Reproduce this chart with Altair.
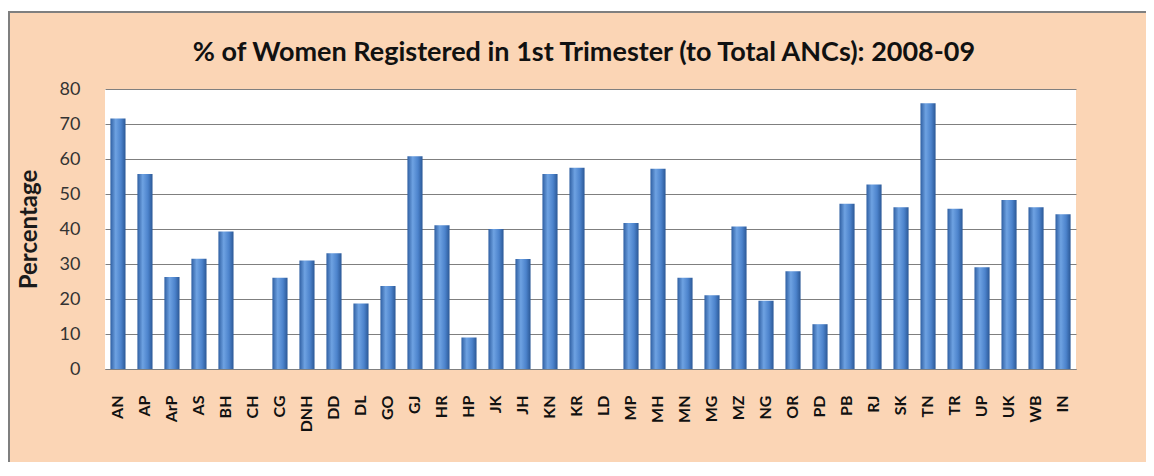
import altair as alt
import pandas as pd

states = ["AN", "AP", "ArP", "AS", "BH", "CH", "CG", "DNH", "DD", "DL", "GO", "GJ",
          "HR", "HP", "JK", "JH", "KN", "KR", "LD", "MP", "MH", "MN", "MG", "MZ",
          "NG", "OR", "PD", "PB", "RJ", "SK", "TN", "TR", "UP", "UK", "WB", "IN"]
values = [71.6, 55.7, 26.3, 31.5, 39.3, 0, 26.1, 31.0, 33.1, 18.7, 23.7, 60.8,
          41.1, 9.0, 40.0, 31.4, 55.7, 57.5, 0, 41.7, 57.2, 26.1, 21.1, 40.7,
          19.5, 27.9, 12.8, 47.2, 52.7, 46.2, 75.9, 45.8, 29.1, 48.3, 46.2, 44.2]
y_ticks = [0, 10, 20, 30, 40, 50, 60, 70, 80]
TITLE = "% of Women Registered in 1st Trimester (to Total ANCs): 2008-09"
Y_TITLE = "Percentage"

W, H = 971, 280
PAD_L, PAD_T, PAD_R, PAD_B = 97, 81, 70, 93
FONT = "Lato"

df = pd.DataFrame({"state": states, "value": values})

grad = alt.Gradient(
    gradient="linear",
    stops=[
        alt.GradientStop(color="#2f5fa2", offset=0),
        alt.GradientStop(color="#6ea2e2", offset=0.35),
        alt.GradientStop(color="#4c83cc", offset=0.7),
        alt.GradientStop(color="#2b5896", offset=1),
    ],
    x1=0, x2=1, y1=0, y2=0,
)

bars = alt.Chart(df).mark_bar(color=grad).encode(
    x=alt.X(
        "state:N", sort=states,
        scale=alt.Scale(paddingInner=0.44, paddingOuter=0.2),
        axis=alt.Axis(
            title=None, labelAngle=270, labelAlign="right", labelBaseline="middle",
            labelPadding=26, ticks=False, domainColor="#7f7f7f", grid=False,
            labelFont=FONT, labelFontWeight="bold", labelFontSize=16, labelColor="#111111",
        ),
    ),
    y=alt.Y(
        "value:Q",
        scale=alt.Scale(domain=[0, 80], nice=False),
        axis=alt.Axis(
            values=y_ticks, title=Y_TITLE, grid=True, gridColor="#7f7f7f", gridWidth=1,
            domain=False, ticks=False, labelPadding=25,
            labelFont=FONT, labelFontSize=18, labelColor="#333333",
            titleFont=FONT, titleFontSize=24, titleFontWeight="bold", titleColor="#1a1a1a",
            titleAngle=270, titleX=-76, titleY=H / 2, titleAlign="center",
            titleBaseline="middle",
        ),
    ),
)

one = pd.DataFrame({"k": [0]})
white_strip = alt.Chart(one).mark_rect(color="white").encode(
    x=alt.value(-PAD_L), x2=alt.value(W + PAD_R), y=alt.value(-PAD_T), y2=alt.value(-PAD_T + 4)
)
border_top = alt.Chart(one).mark_rule(color="#7f7f7f", strokeWidth=2).encode(
    x=alt.value(-PAD_L), x2=alt.value(W + PAD_R), y=alt.value(-PAD_T + 4)
)
border_left = alt.Chart(one).mark_rule(color="#7f7f7f", strokeWidth=2).encode(
    x=alt.value(-PAD_L + 1), y=alt.value(-PAD_T + 4), y2=alt.value(H + PAD_B)
)
title = alt.Chart(pd.DataFrame({"t": [TITLE]})).mark_text(
    font=FONT, fontSize=27, fontWeight="bold", baseline="alphabetic", align="center",
    color="#111111",
).encode(text="t:N", x=alt.value(479), y=alt.value(-28))

chart = alt.layer(white_strip, border_top, border_left, title, bars).properties(
    width=W, height=H,
    padding={"left": PAD_L, "top": PAD_T, "right": PAD_R, "bottom": PAD_B},
    autosize=alt.AutoSizeParams(type="none"),
    background="#fbd5b5",
).configure_view(fill="white", strokeWidth=0)

chart.save("out.html", embed_options={"renderer": "svg", "actions": False})
